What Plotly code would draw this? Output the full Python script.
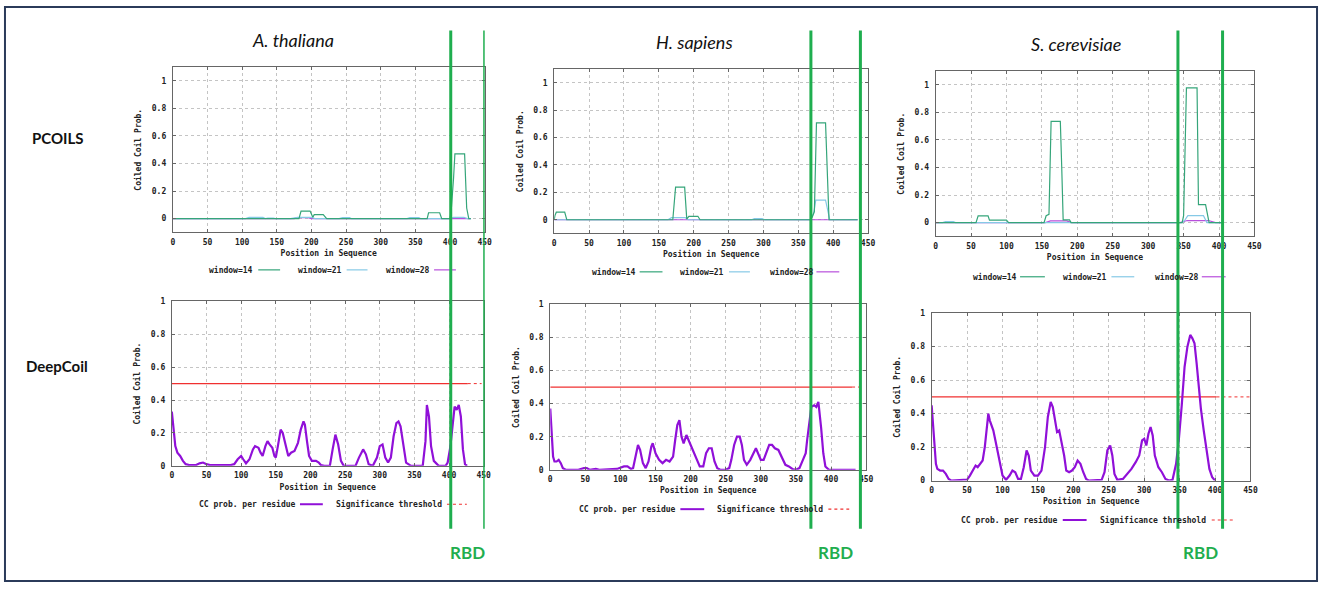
import plotly.graph_objects as go

W, H = 1327, 589

species = ["A. thaliana", "H. sapiens", "S. cerevisiae"]

# RBD boundaries (residues)
rbd_start = [401, 368, 342]
rbd_end = [450, 439, 405]

# ---- PCOILS data ----
at_w14_x = [0, 182, 185, 198, 202, 204, 217, 222, 367, 369, 385, 388, 400, 402, 405, 407, 421, 424, 427, 430]
at_w14_y = [0, 0, 0.055, 0.055, 0.01, 0.029, 0.029, 0, 0, 0.043, 0.043, 0, 0, 0.08, 0.29, 0.47, 0.47, 0.077, 0, 0]
at_w21_x = [0, 105, 110, 130, 134, 137, 145, 148, 170, 180, 200, 205, 240, 245, 255, 258, 338, 342, 355, 358, 400, 405, 420, 425, 430]
at_w21_y = [0, 0, 0.01, 0.01, 0, 0.005, 0.005, 0, 0, 0.01, 0.01, 0, 0, 0.007, 0.007, 0, 0, 0.007, 0.007, 0, 0, 0.01, 0.01, 0, 0]
at_w28_x = [0, 175, 180, 195, 200, 430]
at_w28_y = [0, 0, 0.008, 0.008, 0, 0]

hs_w14_x = [0, 1, 3, 15, 18, 170, 174, 187, 190, 193, 206, 209, 367, 370, 373, 376, 389, 394, 397, 435]
hs_w14_y = [0, 0.03, 0.055, 0.055, 0, 0, 0.238, 0.238, 0.005, 0.025, 0.025, 0, 0, 0.02, 0.06, 0.707, 0.707, 0, 0, 0]
hs_w21_x = [0, 163, 168, 188, 192, 283, 287, 298, 302, 368, 372, 375, 389, 395, 435]
hs_w21_y = [0, 0, 0.015, 0.015, 0, 0, 0.008, 0.008, 0, 0, 0.05, 0.143, 0.143, 0, 0]
hs_w28_x = [0, 435]
hs_w28_y = [0, 0]

sc_w14_x = [0, 57, 60, 74, 76, 100, 103, 153, 156, 160, 163, 176, 178, 180, 189, 191, 348, 350, 354, 369, 371, 381, 386, 407]
sc_w14_y = [0, 0, 0.049, 0.049, 0.018, 0.018, 0, 0, 0.05, 0.06, 0.735, 0.735, 0.4, 0.02, 0.02, 0, 0, 0.05, 0.977, 0.977, 0.131, 0.131, 0, 0]
sc_w21_x = [0, 10, 14, 25, 28, 130, 134, 148, 152, 348, 352, 356, 378, 383, 407]
sc_w21_y = [0, 0, 0.008, 0.008, 0, 0, 0.005, 0.005, 0, 0, 0.02, 0.05, 0.05, 0, 0]
sc_w28_x = [0, 155, 162, 185, 192, 345, 355, 385, 395, 407]
sc_w28_y = [0, 0, 0.012, 0.012, 0, 0, 0.015, 0.015, 0, 0]

# ---- DeepCoil data ----
at_dc_x = [0, 3, 5, 8, 12, 16, 20, 25, 35, 40, 45, 50, 55, 85, 90, 95, 100, 103, 107, 112, 117, 120, 125, 128,
           131, 135, 138, 141, 145, 148, 150, 153, 157, 160, 165, 168, 172, 177, 182, 186, 190, 192, 195, 198,
           202, 208, 212, 215, 220, 228, 232, 236, 240, 244, 248, 265, 270, 276, 280, 284, 290, 296, 300, 304,
           308, 312, 316, 320, 324, 327, 330, 334, 338, 345, 362, 366, 368, 371, 374, 378, 385, 395, 398, 402,
           406, 408, 411, 414, 417, 420, 423, 426]
at_dc_y = [0.33, 0.2, 0.12, 0.08, 0.06, 0.03, 0.01, 0.005, 0.005, 0.015, 0.02, 0.01, 0.005, 0.005, 0.01, 0.04,
           0.06, 0.04, 0.015, 0.04, 0.1, 0.12, 0.11, 0.08, 0.06, 0.12, 0.15, 0.13, 0.11, 0.06, 0.05, 0.12, 0.22,
           0.2, 0.1, 0.06, 0.08, 0.09, 0.14, 0.22, 0.27, 0.25, 0.15, 0.06, 0.03, 0.03, 0.02, 0.005, 0, 0, 0.1,
           0.19, 0.13, 0.03, 0, 0, 0.05, 0.1, 0.07, 0.01, 0, 0.05, 0.12, 0.13, 0.05, 0.02, 0.05, 0.18, 0.26,
           0.27, 0.24, 0.12, 0.02, 0, 0, 0.15, 0.37, 0.3, 0.12, 0.03, 0, 0, 0.02, 0.12, 0.3, 0.36, 0.34, 0.37,
           0.3, 0.1, 0.01, 0]

hs_dc_x = [0, 2, 4, 6, 9, 12, 15, 18, 22, 40, 48, 52, 56, 65, 70, 95, 105, 110, 115, 118, 122, 125, 128, 132,
           136, 140, 144, 146, 150, 155, 160, 165, 170, 175, 178, 181, 184, 187, 190, 194, 197, 200, 205, 210,
           213, 218, 222, 226, 230, 234, 238, 242, 250, 255, 258, 262, 266, 270, 273, 276, 280, 285, 290, 293,
           296, 300, 304, 308, 312, 316, 320, 325, 330, 335, 340, 345, 350, 355, 360, 364, 366, 369, 372, 376,
           379, 382, 384, 386, 389, 392, 397, 435]
hs_dc_y = [0.37, 0.25, 0.08, 0.05, 0.05, 0.06, 0.04, 0.01, 0, 0, 0.01, 0.01, 0, 0.005, 0, 0.005, 0.02, 0.02,
           0.005, 0.01, 0.1, 0.15, 0.12, 0.04, 0.01, 0.05, 0.14, 0.16, 0.1, 0.06, 0.04, 0.06, 0.05, 0.08, 0.18,
           0.27, 0.3, 0.2, 0.16, 0.21, 0.18, 0.15, 0.1, 0.04, 0.02, 0.02, 0.1, 0.13, 0.13, 0.05, 0.01, 0, 0,
           0.01, 0.06, 0.15, 0.2, 0.2, 0.15, 0.06, 0.03, 0.06, 0.1, 0.13, 0.1, 0.06, 0.06, 0.1, 0.15, 0.15,
           0.13, 0.12, 0.07, 0.03, 0.02, 0.005, 0, 0.01, 0.06, 0.1, 0.18, 0.3, 0.38, 0.39, 0.38, 0.41, 0.34,
           0.25, 0.1, 0.02, 0, 0]

sc_dc_x = [0, 2, 4, 6, 8, 12, 16, 20, 24, 28, 45, 50, 54, 58, 62, 65, 68, 72, 75, 78, 80, 82, 85, 87, 90, 93,
           96, 100, 105, 110, 114, 118, 122, 126, 130, 134, 137, 140, 145, 150, 155, 160, 164, 168, 171, 174,
           177, 180, 183, 187, 190, 194, 198, 202, 206, 210, 214, 218, 222, 240, 244, 248, 252, 255, 258, 262,
           270, 276, 282, 288, 293, 297, 300, 303, 306, 309, 312, 315, 320, 325, 330, 335, 340, 345, 349, 353,
           357, 361, 365, 368, 371, 374, 377, 380, 384, 388, 392, 396, 400]
sc_dc_y = [0.45, 0.35, 0.2, 0.1, 0.07, 0.06, 0.06, 0.04, 0.01, 0, 0.005, 0.005, 0.03, 0.06, 0.09, 0.08, 0.1,
           0.12, 0.2, 0.33, 0.4, 0.36, 0.33, 0.3, 0.24, 0.18, 0.1, 0.03, 0.005, 0.03, 0.06, 0.05, 0.01, 0.01,
           0.08, 0.18, 0.15, 0.06, 0.03, 0.03, 0.06, 0.2, 0.38, 0.47, 0.44, 0.35, 0.29, 0.3, 0.24, 0.15, 0.06,
           0.05, 0.06, 0.08, 0.12, 0.1, 0.05, 0.01, 0, 0.005, 0.05, 0.18, 0.21, 0.15, 0.04, 0.005, 0.01, 0.04,
           0.07, 0.11, 0.15, 0.24, 0.25, 0.21, 0.28, 0.32, 0.27, 0.15, 0.08, 0.05, 0.01, 0, 0.005, 0.1, 0.25,
           0.45, 0.68, 0.8, 0.87, 0.85, 0.82, 0.7, 0.55, 0.43, 0.3, 0.17, 0.07, 0.02, 0]

threshold = 0.5
seq_len = [427, 430, 402]  # where the solid threshold line stops
thr_end = [447, 445, 449]

C14, C21, C28 = "#35a57a", "#86c9e6", "#b84fdc"
CDC, CTH = "#9010d8", "#f03030"
GREEN = "#1fae4f"
MONO = "DejaVu Sans Mono"

# plot frames in pixels: left, right, top, bottom
frames = {
    1: (172, 486, 64, 232), 2: (556, 872, 66, 233), 3: (940, 1261, 68, 236),
    4: (171, 485, 302, 469), 5: (552, 870, 305, 473), 6: (936, 1257, 314, 484),
}

fig = go.Figure()

pcoils = [
    (at_w14_x, at_w14_y, at_w21_x, at_w21_y, at_w28_x, at_w28_y),
    (hs_w14_x, hs_w14_y, hs_w21_x, hs_w21_y, hs_w28_x, hs_w28_y),
    (sc_w14_x, sc_w14_y, sc_w21_x, sc_w21_y, sc_w28_x, sc_w28_y),
]
deepcoil = [(at_dc_x, at_dc_y), (hs_dc_x, hs_dc_y), (sc_dc_x, sc_dc_y)]

for i, (x14, y14, x21, y21, x28, y28) in enumerate(pcoils):
    ax = str(i + 1)
    xa, ya = "x" + ax, "y" + ax
    fig.add_trace(go.Scatter(x=x28, y=y28, mode="lines", line=dict(color=C28, width=1.2), xaxis=xa, yaxis=ya))
    fig.add_trace(go.Scatter(x=x21, y=y21, mode="lines", line=dict(color=C21, width=1.2), xaxis=xa, yaxis=ya))
    fig.add_trace(go.Scatter(x=x14, y=y14, mode="lines", line=dict(color=C14, width=1.2), xaxis=xa, yaxis=ya))

for i, (xd, yd) in enumerate(deepcoil):
    ax = str(i + 4)
    xa, ya = "x" + ax, "y" + ax
    fig.add_trace(go.Scatter(x=[0, seq_len[i]], y=[threshold, threshold], mode="lines",
                             line=dict(color=CTH, width=1.2), xaxis=xa, yaxis=ya))
    fig.add_trace(go.Scatter(x=[seq_len[i], thr_end[i]], y=[threshold, threshold], mode="lines",
                             line=dict(color=CTH, width=1, dash="dot"), xaxis=xa, yaxis=ya))
    fig.add_trace(go.Scatter(x=xd, y=yd, mode="lines", line=dict(color=CDC, width=2.2), xaxis=xa, yaxis=ya))

tickfont = dict(family=MONO, size=8, color="#222", weight="bold")
layout = dict(width=W, height=H, margin=dict(l=0, r=0, t=0, b=0), showlegend=False,
              paper_bgcolor="white", plot_bgcolor="white")

for k, (l, r, t, b) in frames.items():
    pc = k <= 3
    xkey = "xaxis" if k == 1 else "xaxis%d" % k
    ykey = "yaxis" if k == 1 else "yaxis%d" % k
    layout[xkey] = dict(
        domain=[l / W, r / W], anchor="y%d" % k, range=[0, 450], tickvals=list(range(0, 451, 50)),
        showgrid=True, gridcolor="#c4c4c4", griddash="dot", gridwidth=1, zeroline=False,
        showline=True, linecolor="#666", linewidth=1, mirror="allticks", ticks="inside", ticklen=3,
        tickcolor="#666", tickfont=tickfont, ticklabelstandoff=2,
        title=dict(text="Position in Sequence", font=tickfont, standoff=4),
    )
    layout[ykey] = dict(
        domain=[1 - b / H, 1 - t / H], anchor="x%d" % k, range=[-0.1, 1.1] if pc else [0, 1],
        tickvals=[0, 0.2, 0.4, 0.6, 0.8, 1], ticktext=["0", "0.2", "0.4", "0.6", "0.8", "1"],
        showgrid=True, gridcolor="#c4c4c4", griddash="dot", gridwidth=1, zeroline=False,
        showline=True, linecolor="#666", linewidth=1, mirror="allticks", ticks="inside", ticklen=3,
        tickcolor="#666", tickfont=tickfont, ticklabelstandoff=4,
        title=dict(text="Coiled Coil Prob.", font=tickfont, standoff=8),
    )

fig.update_layout(**layout)

shapes = []
annotations = []


def px(x):
    return x / W


def py(y):
    return 1 - y / H


def label(text, x, y, font, xref="paper"):
    annotations.append(dict(text=text, x=x, y=py(y), xref=xref, yref="paper", showarrow=False,
                            xanchor="center", yanchor="middle", font=font))


# outer border
shapes.append(dict(type="rect", xref="paper", yref="paper", x0=px(3), x1=px(1324), y0=py(586), y1=py(3),
                   line=dict(color="#2b3b5a", width=2)))

# titles and row labels
title_pos = [(293, 37), (697, 39), (1081, 41)]
for name, (x, y) in zip(species, title_pos):
    label(name, px(x), y, dict(family="Lato", size=18, color="#111", style="italic"))
label("<b>PCOILS</b>", px(56), 136, dict(family="Lato", size=15, color="#111"))
label("<b>DeepCoil</b>", px(55), 368, dict(family="Lato", size=15, color="#111"))

# legends (text + sample line)
legfont = dict(family=MONO, size=8, color="#222", weight="bold")
pc_leg = [
    (270, [(231, 258, 280, "window=14", C14, "solid"), (320, 347, 368, "window=21", C21, "solid"),
           (409, 435, 457, "window=28", C28, "solid")]),
    (272, [(616, 642, 665, "window=14", C14, "solid"), (705, 732, 753, "window=21", C21, "solid"),
           (795, 820, 843, "window=28", C28, "solid")]),
    (277, [(1000, 1025, 1050, "window=14", C14, "solid"), (1090, 1117, 1140, "window=21", C21, "solid"),
           (1183, 1208, 1232, "window=28", C28, "solid")]),
    (508, [(247, 300, 323, "CC prob. per residue", CDC, "solid"),
           (390, 448, 468, "Significance threshold", CTH, "dot")]),
    (513, [(630, 683, 707, "CC prob. per residue", CDC, "solid"),
           (773, 832, 853, "Significance threshold", CTH, "dot")]),
    (524, [(1014, 1068, 1092, "CC prob. per residue", CDC, "solid"),
           (1159, 1218, 1240, "Significance threshold", CTH, "dot")]),
]
for y, items in pc_leg:
    for tx, l0, l1, text, col, dash in items:
        label(text, px(tx), y, legfont)
        shapes.append(dict(type="line", xref="paper", yref="paper", x0=px(l0), x1=px(l1), y0=py(y), y1=py(y),
                           line=dict(color=col, width=2 if col == CDC else 1.2, dash=dash)))

# RBD lines spanning both rows
for i in range(3):
    xa = "x" if i == 0 else "x%d" % (i + 1)
    for xv in (rbd_start[i], rbd_end[i]):
        shapes.append(dict(type="line", xref=xa, yref="paper", x0=xv, x1=xv, y0=py(533), y1=py(27),
                           line=dict(color=GREEN, width=3), layer="above"))
    label("<b>RBD</b>", (rbd_start[i] + rbd_end[i]) / 2, 557, dict(family="Lato", size=17, color=GREEN), xref=xa)

fig.update_layout(shapes=shapes, annotations=annotations)
fig.write_html("out.html", config={"displayModeBar": False},
               post_script="document.body.style.margin='0';")
